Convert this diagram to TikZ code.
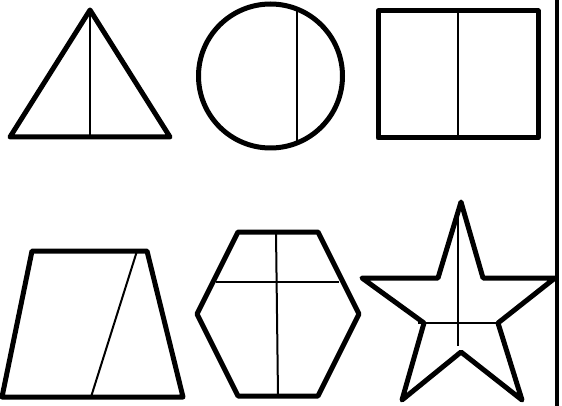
\documentclass[tikz,border=0pt]{standalone}
\begin{document}
\begin{tikzpicture}[x=1pt,y=-1pt,
  outline/.style={line width=5pt,line join=round},
  divider/.style={line width=2pt}]
\useasboundingbox (0,0) rectangle (562,406);
% triangle
\draw[outline] (90,10) -- (170,137) -- (10,137) -- cycle;
\draw[divider] (90,10) -- (90,137);
% circle
\draw[outline] (270.5,76) circle[radius=72];
\draw[divider] (297.3,9) -- (297.3,143);
% square
\draw[outline] (378,11) rectangle (538,138);
\draw[divider] (458,11) -- (458,138);
% right border line
\draw[line width=4pt] (557,0) -- (557,406);
% trapezoid
\draw[outline] (32,251) -- (147,251) -- (183,397) -- (2,397) -- cycle;
\draw[divider] (137,251) -- (91,397);
% hexagon
\draw[outline] (238,232) -- (318,232) -- (359,314) -- (318,396) -- (238,396) -- (197,314) -- cycle;
\draw[divider] (276,232) -- (278,396);
\draw[divider] (216,282) -- (339,282);
% star
\draw[outline] (461,202) -- (483,278) -- (555,278) -- (498,323) -- (522,400) -- (461,352) -- (402,400) -- (424,323) -- (362,278) -- (438,278) -- cycle;
\draw[divider] (458,217) -- (458,346);
\draw[divider] (418,323) -- (497,323);
\end{tikzpicture}
\end{document}
